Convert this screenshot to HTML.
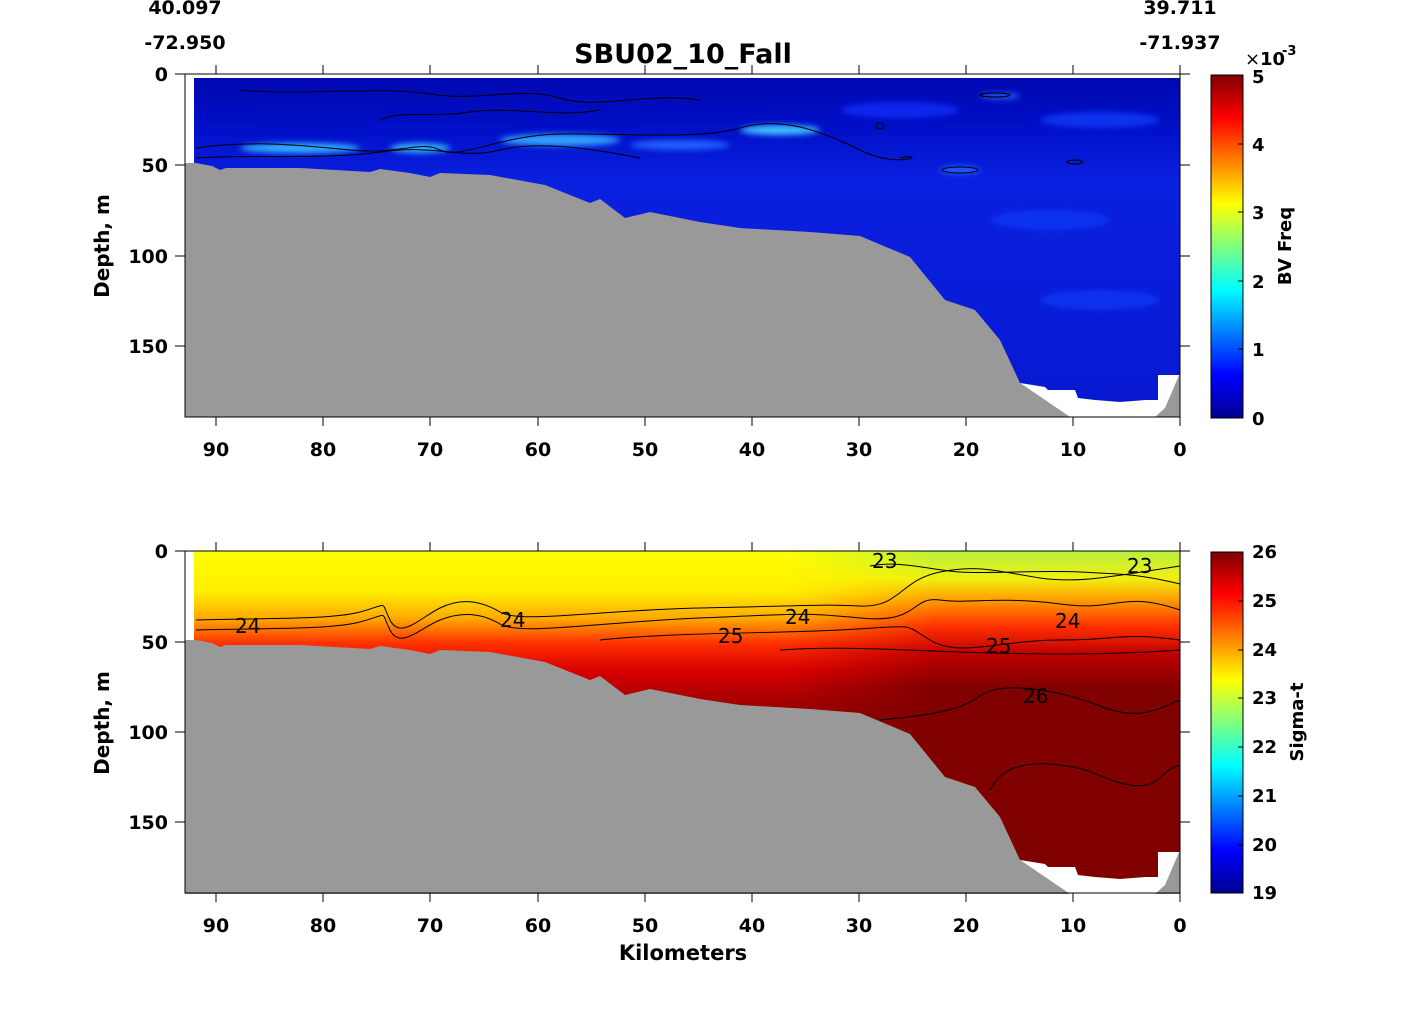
<!DOCTYPE html>
<html><head><style>
body{margin:0;background:#fff;}
svg text{font-family:"DejaVu Sans","Liberation Sans",sans-serif;font-weight:bold;fill:#000;}
</style></head><body>
<svg width="1422" height="1005" viewBox="0 0 1422 1005" xmlns="http://www.w3.org/2000/svg">
<defs>
<linearGradient id="jet" x1="0" y1="1" x2="0" y2="0">
<stop offset="0" stop-color="#00008f"/><stop offset="0.125" stop-color="#0000ff"/><stop offset="0.375" stop-color="#00ffff"/><stop offset="0.625" stop-color="#ffff00"/><stop offset="0.875" stop-color="#ff0000"/><stop offset="1" stop-color="#800000"/>
</linearGradient>
<linearGradient id="bv" x1="0" y1="0" x2="0" y2="1">
<stop offset="0" stop-color="#0008b0"/><stop offset="0.15" stop-color="#0010c8"/><stop offset="0.3" stop-color="#0a20e0"/><stop offset="1" stop-color="#0818d0"/>
</linearGradient>
<linearGradient id="sig" x1="0" y1="0" x2="0" y2="1">
<stop offset="0" stop-color="#ffff00"/><stop offset="0.12" stop-color="#ffee00"/><stop offset="0.2" stop-color="#ffa500"/><stop offset="0.27" stop-color="#ff3000"/><stop offset="0.35" stop-color="#d80000"/><stop offset="0.45" stop-color="#a00000"/><stop offset="0.55" stop-color="#800000"/><stop offset="1" stop-color="#800000"/>
</linearGradient>
<linearGradient id="sigR" x1="0" y1="0" x2="0" y2="1">
<stop offset="0" stop-color="#b8f040"/><stop offset="0.08" stop-color="#f0f010"/><stop offset="0.14" stop-color="#ffa000"/><stop offset="0.22" stop-color="#ff3000"/><stop offset="0.3" stop-color="#c00000"/><stop offset="0.4" stop-color="#800000"/><stop offset="1" stop-color="#800000"/>
</linearGradient>
<linearGradient id="hmix" x1="0" y1="0" x2="1" y2="0">
<stop offset="0" stop-color="#fff" stop-opacity="1"/><stop offset="0.6" stop-color="#fff" stop-opacity="1"/><stop offset="0.75" stop-color="#fff" stop-opacity="0"/><stop offset="1" stop-color="#fff" stop-opacity="0"/>
</linearGradient>
<mask id="m"><rect x="194" y="551" width="990" height="342" fill="url(#hmix)"/></mask>
<filter id="bl"><feGaussianBlur stdDeviation="3"/></filter>
<g id="bathy">
<polygon fill="#999" points="185,163 196,163 212,166 220,170 226,168 240,168 300,168 370,172 380,169 410,173 430,177 440,173 490,175 545,185 590,203 600,199 625,218 650,212 700,222 740,228 810,232 860,236 910,257 945,300 975,310 1000,340 1020,383 1070,417 185,417"/>
<polygon fill="#fff" points="1020,383 1045,387 1048,390 1075,390 1078,398 1095,400 1120,402 1145,400 1158,400 1158,375 1180,375 1180,417 1070,417"/>
<polygon fill="#999" points="1155,417 1165,408 1180,373 1180,417"/>
</g>
</defs>

<!-- TOP PLOT -->
<rect x="194" y="78" width="986" height="339" fill="url(#bv)"/>
<g filter="url(#bl)">
<ellipse cx="300" cy="148" rx="60" ry="5" fill="#30b0ff"/>
<ellipse cx="420" cy="148" rx="30" ry="5" fill="#30b0ff"/>
<ellipse cx="560" cy="140" rx="60" ry="6" fill="#30a0ff"/>
<ellipse cx="780" cy="130" rx="40" ry="5" fill="#40c0ff"/>
<ellipse cx="680" cy="145" rx="50" ry="5" fill="#2060ff"/>
<ellipse cx="960" cy="170" rx="20" ry="4" fill="#2060ff"/>
<ellipse cx="1000" cy="96" rx="20" ry="3" fill="#2060ff"/>
<ellipse cx="1100" cy="120" rx="60" ry="8" fill="#1030f0"/>
<ellipse cx="1050" cy="220" rx="60" ry="10" fill="#1030f0"/>
<ellipse cx="1100" cy="300" rx="60" ry="10" fill="#1030f0"/>
<ellipse cx="900" cy="110" rx="60" ry="8" fill="#1028ee"/>
</g>
<g fill="none" stroke="#000" stroke-width="1">
<path d="M196,148 C250,140 300,145 350,150 S420,140 440,150 S500,135 560,134 S700,140 740,128 S820,130 860,150 S930,152 900,158"/>
<path d="M196,158 C260,154 320,160 380,152 S460,160 500,150 S600,150 640,158"/>
<path d="M240,90 C300,96 380,86 430,94 S520,86 560,98 S640,92 700,100"/>
<path d="M380,120 C400,110 430,118 470,112 S560,118 600,110"/>
<ellipse cx="960" cy="170" rx="18" ry="3"/><ellipse cx="1075" cy="162" rx="8" ry="2"/>
<ellipse cx="995" cy="95" rx="15" ry="2"/><ellipse cx="880" cy="126" rx="4" ry="3"/>
</g>
<use href="#bathy"/>
<rect x="185" y="74" width="995" height="343" fill="none" stroke="#000" stroke-width="1"/>

<!-- BOTTOM PLOT -->
<rect x="194" y="551" width="986" height="342" fill="url(#sigR)"/>
<rect x="194" y="551" width="986" height="342" fill="url(#sig)" mask="url(#m)"/>
<g fill="none" stroke="#000" stroke-width="1">
<path d="M196,620 C260,618 330,620 360,612 S380,600 390,620 S420,618 440,608 S480,600 500,612 S600,610 700,608 S820,604 860,606 S900,580 940,572 S1000,572 1040,578 S1120,575 1180,566"/>
<path d="M196,630 C260,628 330,630 360,622 S380,610 390,630 S420,628 440,620 S480,612 500,624 S600,622 700,618 S800,612 860,618 S910,596 940,600 S1000,596 1060,604 S1120,590 1180,610"/>
<path d="M600,640 C680,632 760,634 840,630 S900,622 930,640 S1000,640 1060,640 S1120,632 1180,640"/>
<path d="M780,650 C840,646 900,650 960,652 S1100,656 1180,650"/>
<path d="M880,720 C920,716 960,712 980,696 S1060,690 1100,706 S1160,708 1180,700"/>
<path d="M990,790 C1000,770 1020,760 1060,765 S1100,780 1130,785 S1160,770 1180,765"/>
<path d="M870,566 C900,560 930,570 960,572 S1040,570 1080,572 S1140,574 1180,584"/>
</g>
<g font-size="20">
<text x="235" y="633" style="font-weight:normal">24</text>
<text x="500" y="627" style="font-weight:normal">24</text>
<text x="785" y="624" style="font-weight:normal">24</text>
<text x="1055" y="628" style="font-weight:normal">24</text>
<text x="718" y="643" style="font-weight:normal">25</text>
<text x="986" y="653" style="font-weight:normal">25</text>
<text x="1023" y="703" style="font-weight:normal">26</text>
<text x="872" y="568" style="font-weight:normal">23</text>
<text x="1127" y="573" style="font-weight:normal">23</text>
</g>
<g transform="translate(0,477)"><use href="#bathy"/></g>
<rect x="185" y="551" width="995" height="342" fill="none" stroke="#000" stroke-width="1"/>

<!-- ticks -->
<g stroke="#000" stroke-width="1">
<path d="M216,74v-9M216,417v9M323,74v-9M323,417v9M430,74v-9M430,417v9M538,74v-9M538,417v9M645,74v-9M645,417v9M752,74v-9M752,417v9M859,74v-9M859,417v9M966,74v-9M966,417v9M1073,74v-9M1073,417v9M1180,74v-9M1180,417v9"/>
<path d="M185,74h-10M185,165h-10M185,256h-10M185,346h-10M1180,74h10M1180,165h10M1180,256h10M1180,346h10"/>
<path d="M216,551v-9M216,893v9M323,551v-9M323,893v9M430,551v-9M430,893v9M538,551v-9M538,893v9M645,551v-9M645,893v9M752,551v-9M752,893v9M859,551v-9M859,893v9M966,551v-9M966,893v9M1073,551v-9M1073,893v9M1180,551v-9M1180,893v9"/>
<path d="M185,551h-10M185,642h-10M185,732h-10M185,822h-10M1180,551h10M1180,642h10M1180,732h10M1180,822h10"/>
</g>
<g font-size="19" text-anchor="middle">
<text x="216" y="456">90</text><text x="323" y="456">80</text><text x="430" y="456">70</text><text x="538" y="456">60</text><text x="645" y="456">50</text><text x="752" y="456">40</text><text x="859" y="456">30</text><text x="966" y="456">20</text><text x="1073" y="456">10</text><text x="1180" y="456">0</text>
<text x="216" y="932">90</text><text x="323" y="932">80</text><text x="430" y="932">70</text><text x="538" y="932">60</text><text x="645" y="932">50</text><text x="752" y="932">40</text><text x="859" y="932">30</text><text x="966" y="932">20</text><text x="1073" y="932">10</text><text x="1180" y="932">0</text>
</g>
<g font-size="19" text-anchor="end">
<text x="168" y="81">0</text><text x="168" y="172">50</text><text x="168" y="263">100</text><text x="168" y="353">150</text>
<text x="168" y="558">0</text><text x="168" y="649">50</text><text x="168" y="739">100</text><text x="168" y="829">150</text>
</g>
<text font-size="20" transform="translate(109,246) rotate(-90)" text-anchor="middle">Depth, m</text>
<text font-size="20" transform="translate(109,723) rotate(-90)" text-anchor="middle">Depth, m</text>
<text font-size="21" x="683" y="960" text-anchor="middle">Kilometers</text>
<text font-size="27" x="683" y="63" text-anchor="middle">SBU02_10_Fall</text>
<g font-size="19" text-anchor="middle">
<text x="185" y="14">40.097</text><text x="185" y="49">-72.950</text>
<text x="1180" y="14">39.711</text><text x="1180" y="49">-71.937</text>
</g>

<!-- colorbars -->
<rect x="1211" y="75" width="32" height="343" fill="url(#jet)" stroke="#000"/>
<rect x="1211" y="552" width="32" height="341" fill="url(#jet)" stroke="#000"/>
<g stroke="#000"><path d="M1243,144h-5M1243,212h-5M1243,281h-5M1243,349h-5M1243,601h-5M1243,650h-5M1243,698h-5M1243,747h-5M1243,796h-5M1243,845h-5"/></g>
<g font-size="18">
<text x="1252" y="83">5</text><text x="1252" y="151">4</text><text x="1252" y="219">3</text><text x="1252" y="288">2</text><text x="1252" y="356">1</text><text x="1252" y="425">0</text>
<text x="1252" y="558">26</text><text x="1252" y="607">25</text><text x="1252" y="656">24</text><text x="1252" y="704">23</text><text x="1252" y="753">22</text><text x="1252" y="802">21</text><text x="1252" y="851">20</text><text x="1252" y="899">19</text>
</g>
<text x="1245" y="65" font-size="18" style="font-weight:normal">×</text><text x="1260" y="65" font-size="18">10</text><text x="1282" y="55" font-size="13">-3</text>
<text font-size="18" transform="translate(1291,246) rotate(-90)" text-anchor="middle">BV Freq</text>
<text font-size="18" transform="translate(1303,722) rotate(-90)" text-anchor="middle">Sigma-t</text>
</svg>
</body></html>
